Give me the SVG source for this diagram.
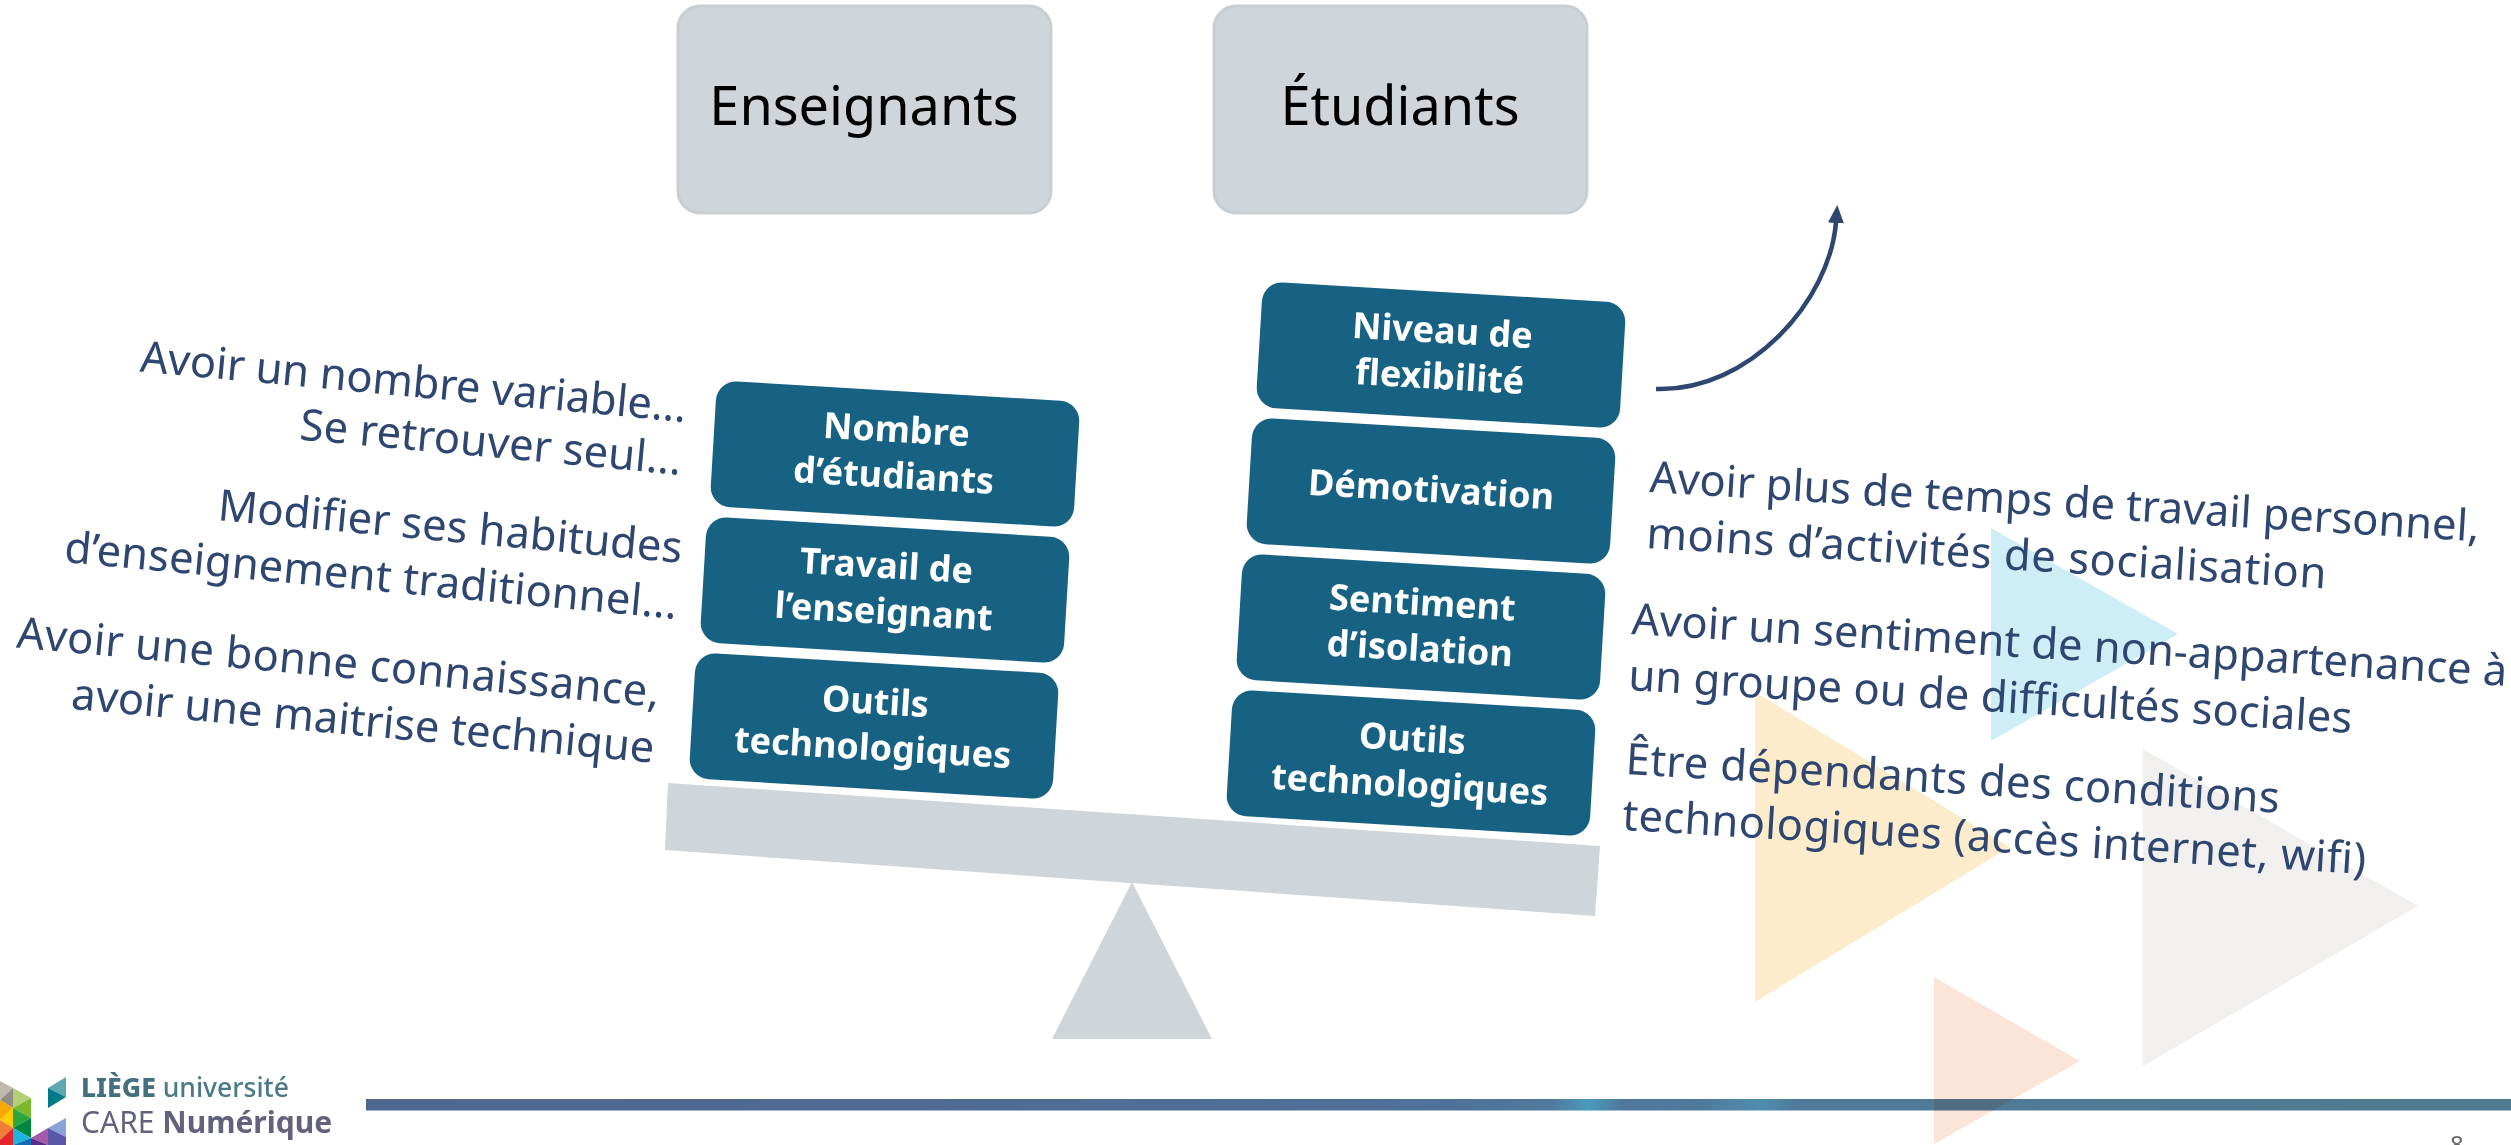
<svg xmlns="http://www.w3.org/2000/svg" width="2511" height="1145" viewBox="0 0 2511 1145">
<defs>
<linearGradient id="bar" gradientUnits="userSpaceOnUse" x1="366" x2="2511" y1="0" y2="0">
<stop offset="0" stop-color="#4f6690"/><stop offset="0.5" stop-color="#4f7098"/><stop offset="0.553" stop-color="#4f7a9c"/><stop offset="0.57" stop-color="#4a9abc"/><stop offset="0.586" stop-color="#4f789c"/><stop offset="0.622" stop-color="#4f7a9c"/><stop offset="0.65" stop-color="#4f8cae"/><stop offset="0.668" stop-color="#4f7a9a"/><stop offset="1" stop-color="#4f7b8f"/>
</linearGradient>
<marker id="ah" markerUnits="userSpaceOnUse" markerWidth="18" markerHeight="18" refX="1" refY="8.5" orient="auto"><path d="M0,0.5 L18,8.5 L0,16.5 Z" fill="#2f4670"/></marker>
</defs>
<style>
.top{fill:#d0d5d9;stroke:#c9ced3;stroke-width:3}
.box{fill:#176282}
.tt{font-family:"Noto Sans","Open Sans",sans-serif;font-size:54px;fill:#000;text-anchor:middle}
.bl{font-family:"Noto Sans","Open Sans",sans-serif;font-size:36px;font-weight:700;fill:#fff;text-anchor:middle}
.d{font-family:"Noto Sans","Open Sans",sans-serif;font-size:43.5px;fill:#2f4670}
.end{text-anchor:end}
.ft{font-family:"Noto Sans",sans-serif}
</style>
<rect width="2511" height="1145" fill="#fff"/>
<g id="background">
<polygon points="1991,528 2178,634 1991,741" fill="#cdeef6"/>
<polygon points="1755,692 2010,847 1755,1002" fill="#fdeccb"/>
<polygon points="2143,749 2418,906 2143,1066" fill="#f1f0ee"/>
</g>
<g id="footer">
<rect x="366" y="1099" width="2145" height="11.5" fill="url(#bar)"/>
<polygon points="1934,977 2080,1061 1934,1144" fill="#fde4d8" style="mix-blend-mode:multiply"/>
<g id="logo">
<polygon points="66,1077 48,1088 66,1097" fill="#5fa8b3"/>
<polygon points="48,1088 66,1097 48,1108" fill="#007b8a"/>
<polygon points="66,1118 48,1128 66,1137" fill="#8ba3d8"/>
<polygon points="48,1128 66,1137 66,1145 48,1145" fill="#5a56a8"/>
<polygon points="31,1138 48,1128 48,1145" fill="#a55ba8"/>
<polygon points="31,1138 48,1145 31,1145" fill="#5d2a8a"/>
<polygon points="0,1081 13,1088 0,1100" fill="#c0baae"/>
<polygon points="0,1100 13,1088 13,1108" fill="#8f8f85"/>
<polygon points="13,1088 31,1098 13,1108" fill="#b5cf74"/>
<polygon points="13,1108 31,1098 31,1118" fill="#7ab82c"/>
<polygon points="13,1108 31,1118 13,1128" fill="#2ea63d"/>
<polygon points="13,1128 31,1118 31,1138" fill="#00873e"/>
<polygon points="13,1128 31,1138 13,1145" fill="#1fb3e0"/>
<polygon points="13,1145 31,1138 31,1145" fill="#0f6fb5"/>
<polygon points="0,1100 13,1108 0,1120" fill="#f5a800"/>
<polygon points="0,1120 13,1108 13,1128" fill="#ffcc00"/>
<polygon points="0,1120 13,1128 0,1140" fill="#ef7d35"/>
<polygon points="0,1140 13,1128 13,1145 0,1145" fill="#e4262c"/>
</g>
<text class="ft" x="81" y="1097" font-size="26.5" font-weight="500" fill="#4a7a85"><tspan font-weight="800" fill="#44707e">LIÈGE</tspan> université</text>
<text class="ft" x="81" y="1133" font-size="30" fill="#63627c">CARE <tspan font-weight="700">Numérique</tspan></text>
<text class="ft" x="2450" y="1153" font-size="24" fill="#666">8</text>
</g>
<g id="balance">
<polygon points="668,783 1600,846 1595,916 665,850" fill="#d0d5d9"/>
<polygon points="1132,882 1052,1039 1212,1039" fill="#d0d5d9"/>
</g>
<g id="enseignants"><rect class="top" x="678" y="6" width="373" height="207" rx="22"/><text class="tt" x="864" y="125">Enseignants</text></g>
<g id="etudiants"><rect class="top" x="1214" y="6" width="373" height="207" rx="22"/><text class="tt" x="1400" y="125">Étudiants</text></g>
<g id="nombre" transform="translate(895,454) rotate(3.4)"><rect class="box" x="-182" y="-63" width="364" height="126" rx="20"/><text class="bl"><tspan x="0" y="-12">Nombre</tspan><tspan x="0" y="34">d’étudiants</tspan></text></g>
<g id="travail" transform="translate(885,590) rotate(3.4)"><rect class="box" x="-182" y="-63" width="364" height="126" rx="20"/><text class="bl"><tspan x="0" y="-12">Travail de</tspan><tspan x="0" y="34">l’enseignant</tspan></text></g>
<g id="outils-e" transform="translate(874,726) rotate(3.4)"><rect class="box" x="-182" y="-63" width="364" height="126" rx="20"/><text class="bl"><tspan x="0" y="-12">Outils</tspan><tspan x="0" y="34">technologiques</tspan></text></g>
<g id="niveau" transform="translate(1441,355) rotate(3.4)"><rect class="box" x="-182" y="-63" width="364" height="126" rx="20"/><text class="bl"><tspan x="0" y="-12">Niveau de</tspan><tspan x="0" y="34">flexibilité</tspan></text></g>
<g id="demotivation" transform="translate(1431,491) rotate(3.4)"><rect class="box" x="-182" y="-63" width="364" height="126" rx="20"/><text class="bl" y="11" x="0">Démotivation</text></g>
<g id="sentiment" transform="translate(1421,627) rotate(3.4)"><rect class="box" x="-182" y="-63" width="364" height="126" rx="20"/><text class="bl"><tspan x="0" y="-12">Sentiment</tspan><tspan x="0" y="34">d’isolation</tspan></text></g>
<g id="outils-s" transform="translate(1411,763) rotate(3.4)"><rect class="box" x="-182" y="-63" width="364" height="126" rx="20"/><text class="bl"><tspan x="0" y="-12">Outils</tspan><tspan x="0" y="34">technologiques</tspan></text></g>
<g id="connectors"><path d="M1656,389 C1750,392 1830,300 1836,222" fill="none" stroke="#2f4670" stroke-width="4.5" marker-end="url(#ah)"/></g>
<g id="labels">
<text class="d end" transform="translate(685,422) rotate(5.3)" x="0" y="0" textLength="548">Avoir un nombre variable...</text>
<text class="d end" transform="translate(685,422) rotate(5.3)" x="0" y="53" textLength="383">Se retrouver seul...</text>
<text class="d end" transform="translate(681,563) rotate(5.3)" x="0" y="0" textLength="466">Modifier ses habitudes</text>
<text class="d end" transform="translate(681,563) rotate(5.3)" x="0" y="56" textLength="615">d’enseignement traditionnel...</text>
<text class="d end" transform="translate(658,707) rotate(5.3)" x="0" y="0" textLength="645">Avoir une bonne connaissance,</text>
<text class="d end" transform="translate(658,707) rotate(5.3)" x="0" y="56" textLength="585">avoir une maitrise technique</text>
<text class="d" transform="translate(1649,492) rotate(3.4)" x="0" y="0" textLength="831">Avoir plus de temps de travail personnel,</text>
<text class="d" transform="translate(1649,492) rotate(3.4)" x="0" y="56" textLength="681">moins d’activités de socialisation</text>
<text class="d" transform="translate(1631,634) rotate(3.4)" x="0" y="0" textLength="877">Avoir un sentiment de non-appartenance à</text>
<text class="d" transform="translate(1631,634) rotate(3.4)" x="0" y="56" textLength="725">un groupe ou de difficultés sociales</text>
<text class="d" transform="translate(1625,774) rotate(3.4)" x="0" y="0" textLength="655">Être dépendants des conditions</text>
<text class="d" transform="translate(1625,774) rotate(3.4)" x="0" y="56" textLength="745">technologiques (accès internet, wifi)</text>
</g>
</svg>
